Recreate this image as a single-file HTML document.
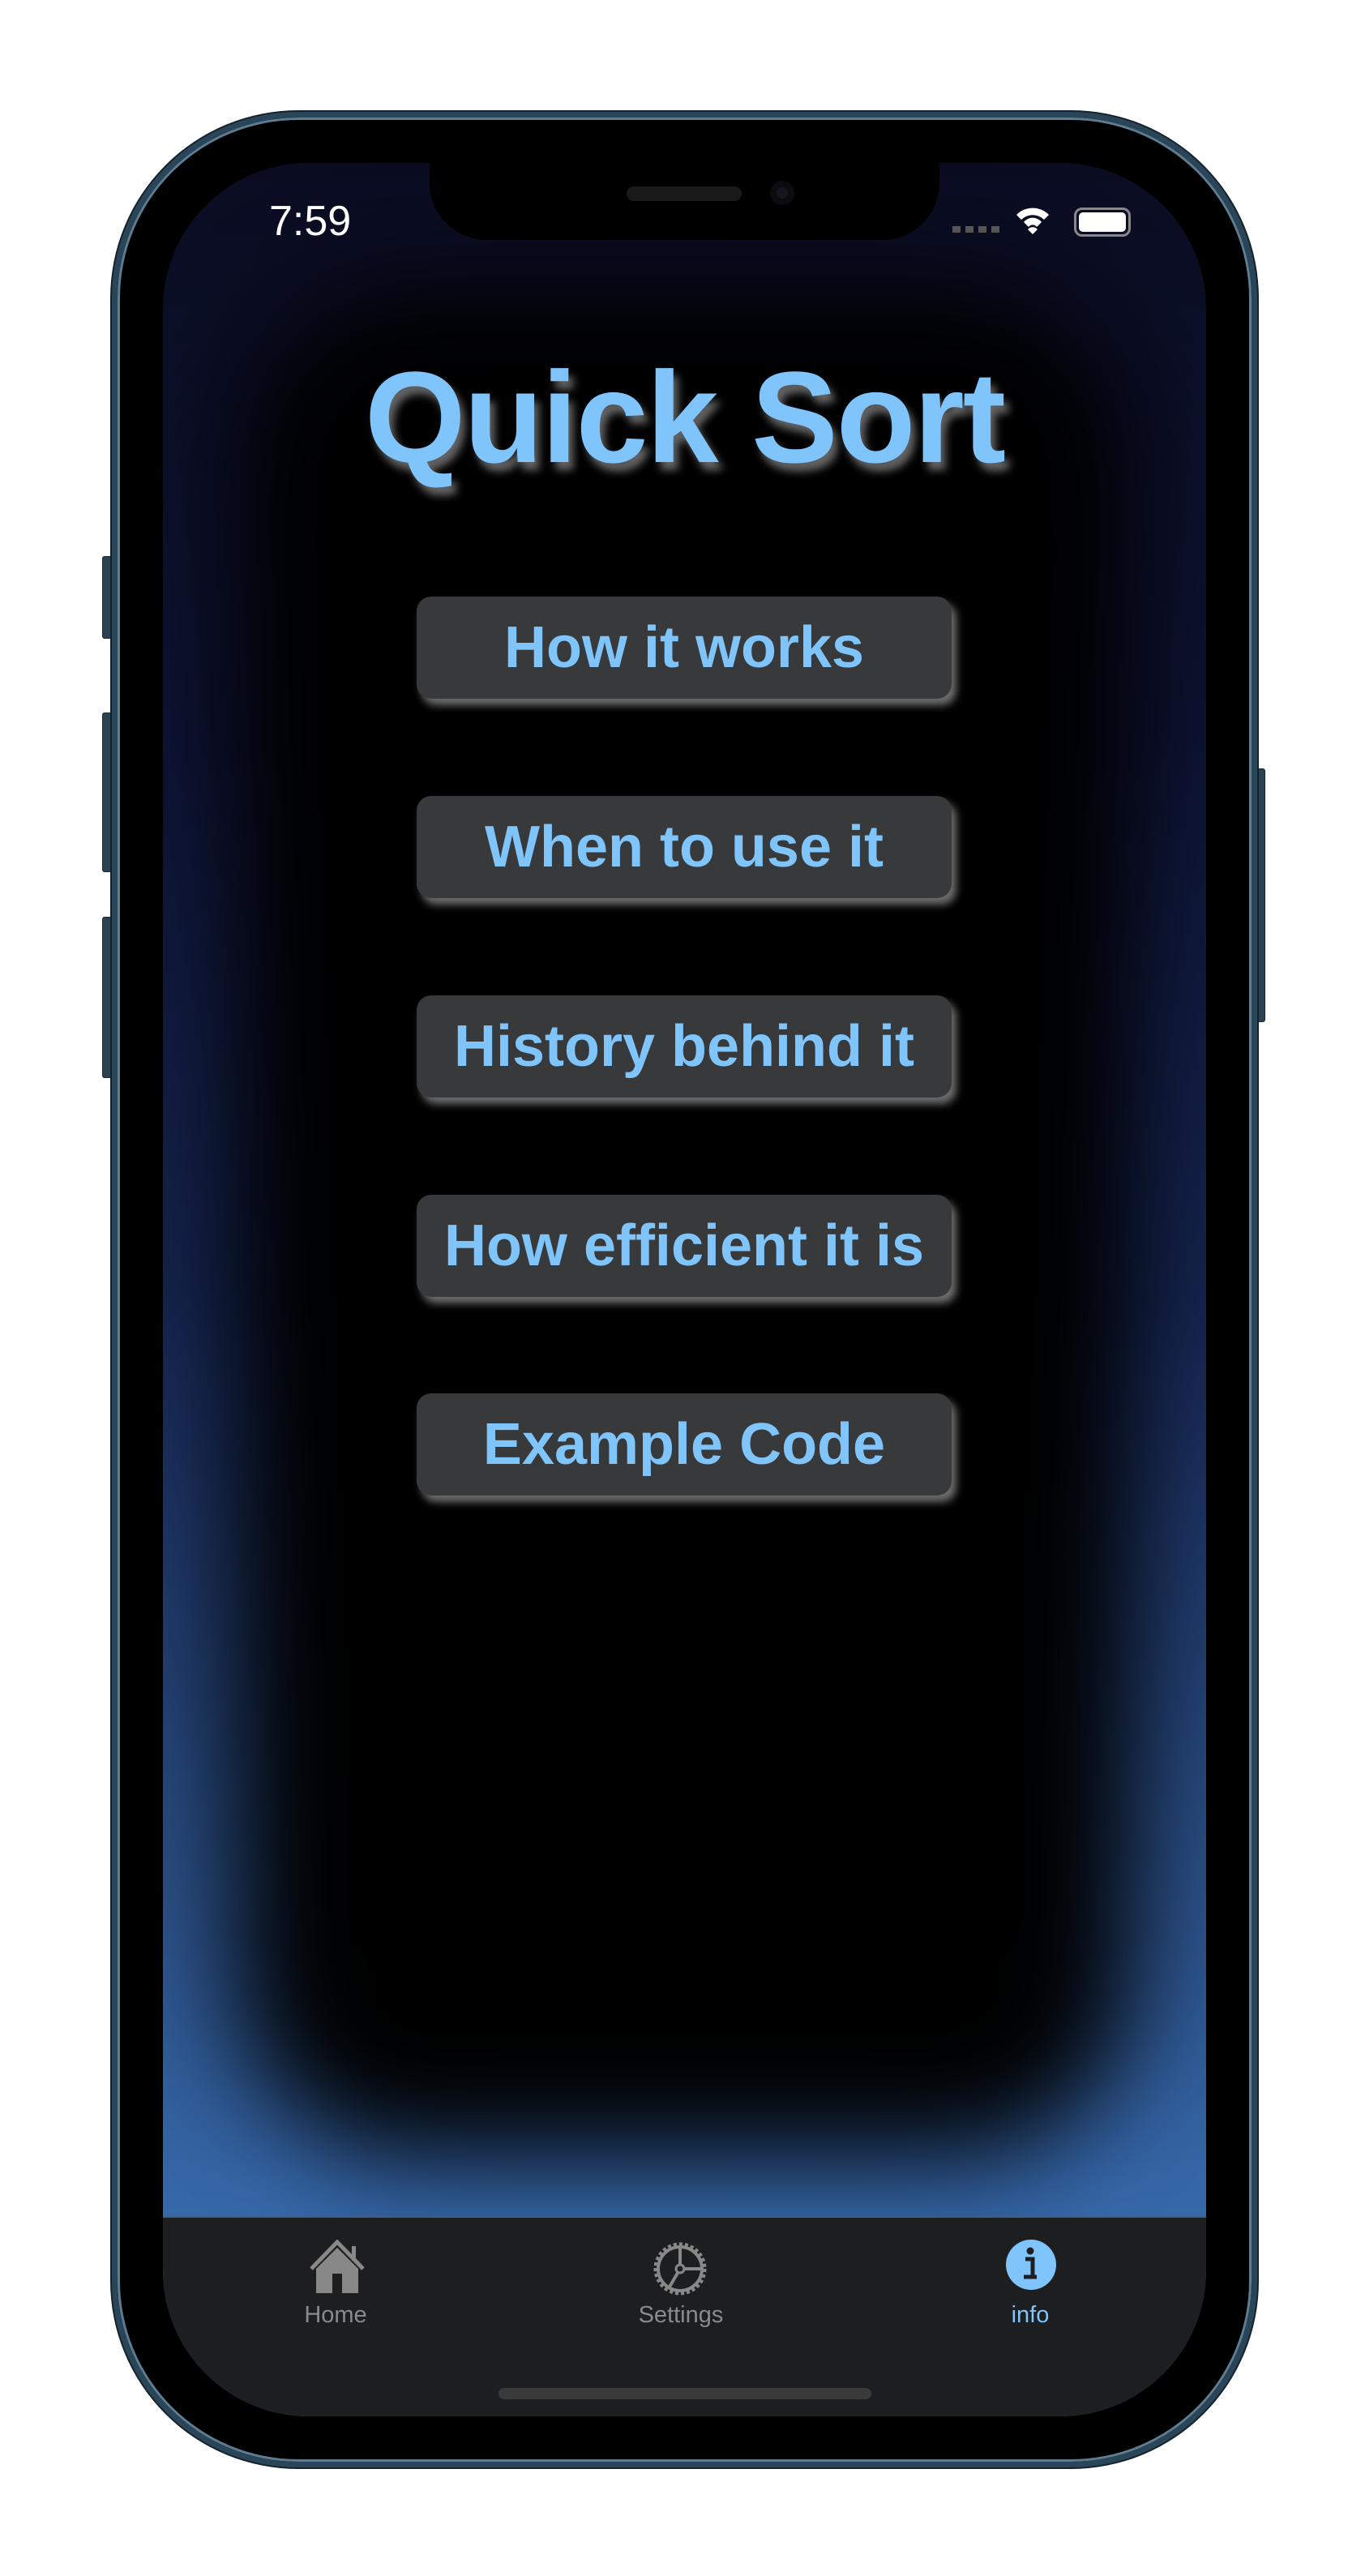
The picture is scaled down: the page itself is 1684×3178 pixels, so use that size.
<!DOCTYPE html>
<html><head><meta charset="utf-8"><style>
*{margin:0;padding:0;box-sizing:border-box}
body{width:1684px;height:3178px;background:#fff;position:relative;overflow:hidden;font-family:"Liberation Sans",sans-serif}
.abs{position:absolute}
.frame{left:138px;top:138px;width:1413px;height:2906px;border-radius:230px;background:#000;border:7px solid #2a4558;box-shadow:0 0 0 2px #14222d, inset 0 0 0 3px #5d7d93}
.sb{background:#2b4252;border:1px solid #1a2a35}
.screen{left:201px;top:201px;width:1287px;height:2780px;border-radius:180px;overflow:hidden;background:linear-gradient(to bottom,#0a0d22 0%,#0d1333 25%,#152450 50%,#2a4f86 75%,#3a70b5 96%)}
.dark{left:90px;top:150px;width:1107px;height:2310px;background:#000;border-radius:220px;filter:blur(65px)}
.btn{left:313px;width:660px;height:126px;border-radius:18px;background:#38393b;box-shadow:6px 8px 10px rgba(200,200,200,.55);color:#80c4fc;font-weight:bold;font-size:72px;text-align:center;line-height:126px;white-space:nowrap}
.tab{left:0;top:2533px;width:1287px;height:247px;background:#1d1e20;border-top:2px solid #3a5f8d}
.lbl{font-size:29px;color:#8a8a8a;text-align:center;width:200px;top:104px}
</style></head><body>
<div class="abs sb" style="left:126px;top:686px;width:14px;height:102px;border-radius:3px"></div>
<div class="abs sb" style="left:126px;top:879px;width:14px;height:197px;border-radius:3px"></div>
<div class="abs sb" style="left:126px;top:1131px;width:14px;height:199px;border-radius:3px"></div>
<div class="abs sb" style="left:1549px;top:948px;width:12px;height:313px;border-radius:3px"></div>
<div class="abs frame"></div>
<div class="abs screen">
  <div class="abs dark"></div>
  <div class="abs" style="left:329px;top:-5px;width:629px;height:100px;background:#000;border-radius:0 0 70px 70px"></div>
  <div class="abs" style="left:572px;top:29px;width:142px;height:18px;border-radius:9px;background:#1a1a1a"></div>
  <div class="abs" style="left:749px;top:22px;width:30px;height:30px;border-radius:50%;background:#14161f;box-shadow:inset 0 0 0 8px #0b0b10"></div>
  <div class="abs" style="left:131px;top:42px;font-size:52px;color:#fff">7:59</div>
  <div class="abs" style="left:974px;top:78px;width:60px;height:8px;background:repeating-linear-gradient(to right,#555 0 10px,transparent 10px 16px)"></div>
  <svg class="abs" style="left:1050px;top:50px" width="46" height="40" viewBox="0 0 46 40"><path d="M3 14 A28 28 0 0 1 43 14 L37 20 A20 20 0 0 0 9 20Z M12 23 A14 14 0 0 1 34 23 L28 29 A6 6 0 0 0 18 29Z M23 38 L17 32 A8 8 0 0 1 29 32Z" fill="#fff"/></svg>
  <div class="abs" style="left:1124px;top:55px;width:70px;height:36px;border:3px solid #888;border-radius:10px;padding:3px"><div style="width:100%;height:100%;background:#fff;border-radius:5px"></div></div>
  <div class="abs" style="left:0;top:222px;width:1287px;text-align:center;font-size:160px;font-weight:bold;color:#80c4fc;text-shadow:6px 10px 10px rgba(200,200,200,.5);letter-spacing:-2px">Quick Sort</div>
  <div class="abs btn" style="top:535px">How it works</div>
  <div class="abs btn" style="top:781px">When to use it</div>
  <div class="abs btn" style="top:1027px">History behind it</div>
  <div class="abs btn" style="top:1273px">How efficient it is</div>
  <div class="abs btn" style="top:1518px">Example Code</div>
  <div class="abs tab">
    <svg class="abs" style="left:175px;top:27px" width="80" height="70" viewBox="0 0 80 70"><path d="M8 36 L40 3 L72 36" stroke="#888" stroke-width="5" fill="none"/><rect x="58" y="8" width="5" height="18" fill="#888"/><path d="M14 36 L40 10 L66 36 V66 H14Z" fill="#888"/><rect x="34" y="42" width="12" height="24" fill="#1d1e20"/></svg>
    <svg class="abs" style="left:600px;top:25px" width="76" height="76" viewBox="0 0 76 76"><circle cx="38" cy="38" r="30" stroke="#888" stroke-width="5" fill="none" stroke-dasharray="4 3"/><circle cx="38" cy="38" r="27" stroke="#888" stroke-width="4" fill="none"/><path d="M38 38 L38 11 M38 38 L64 38 M38 38 L24 62" stroke="#888" stroke-width="4"/><circle cx="38" cy="38" r="5" fill="#1d1e20" stroke="#888" stroke-width="3"/></svg>
    <svg class="abs" style="left:1038px;top:25px" width="66" height="66" viewBox="0 0 66 66"><circle cx="33" cy="33" r="31" fill="#80c4fc"/><circle cx="32" cy="16" r="4.5" fill="#1d1e20"/><path d="M26 26 H35 V48 H40 M24 48 H40" stroke="#1d1e20" stroke-width="5" fill="none"/></svg>
    <div class="abs lbl" style="left:113px">Home</div>
    <div class="abs lbl" style="left:539px">Settings</div>
    <div class="abs lbl" style="left:970px;color:#80c4fc">info</div>
    <div class="abs" style="left:414px;top:210px;width:460px;height:14px;border-radius:7px;background:#3a3a3a"></div>
  </div>
</div>
</body></html>
